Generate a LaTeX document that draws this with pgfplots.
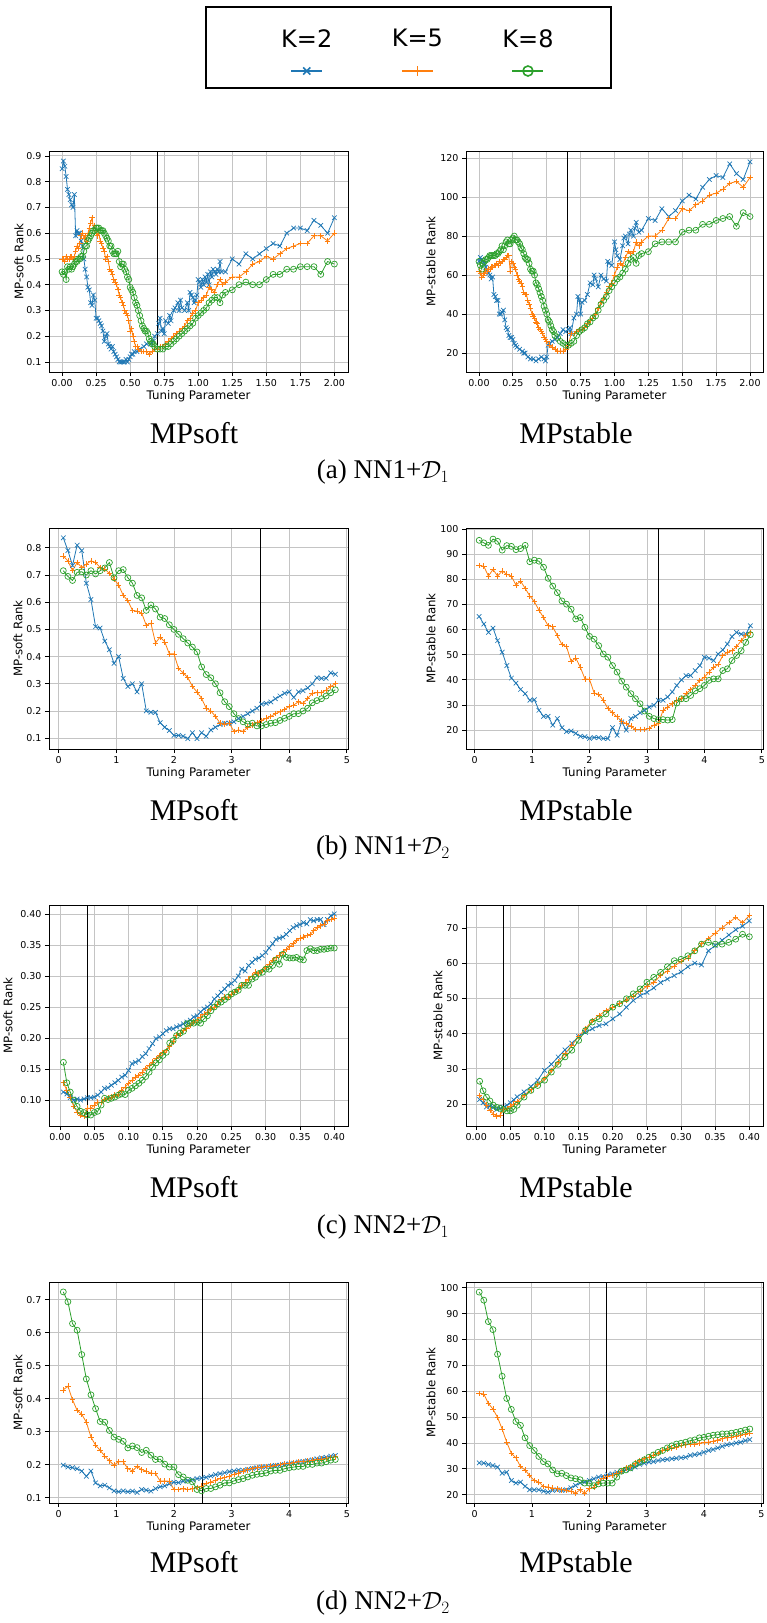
\documentclass[border=0pt]{standalone}
\usepackage{fontspec}
\setmainfont{Liberation Serif}
\newfontfamily\dejavu{DejaVu Sans}
\usepackage{pgfplots}
\usepackage{pgfplotstable}
\pgfplotsset{compat=1.18}
\definecolor{c2}{HTML}{1F77B4}
\definecolor{c5}{HTML}{FF7F0E}
\definecolor{c8}{HTML}{2CA02C}
\definecolor{gridc}{HTML}{C4C4C4}

\pgfplotstableread{
x b o g
0.08 0.837 0.770 0.716
0.16 0.790 0.752 0.695
0.24 0.735 0.716 0.680
0.32 0.810 0.746 0.710
0.40 0.790 0.728 0.712
0.48 0.670 0.740 0.700
0.56 0.610 0.752 0.716
0.64 0.510 0.746 0.704
0.72 0.505 0.728 0.716
0.80 0.457 0.722 0.726
0.88 0.425 0.706 0.746
0.96 0.375 0.685 0.690
1.04 0.400 0.663 0.716
1.12 0.320 0.625 0.720
1.20 0.290 0.606 0.690
1.28 0.300 0.570 0.670
1.36 0.270 0.567 0.625
1.44 0.300 0.560 0.616
1.52 0.200 0.515 0.570
1.60 0.195 0.523 0.590
1.68 0.195 0.450 0.575
1.76 0.157 0.472 0.545
1.84 0.140 0.454 0.540
1.92 0.128 0.410 0.517
2.00 0.110 0.410 0.500
2.08 0.110 0.356 0.482
2.16 0.107 0.340 0.466
2.24 0.098 0.323 0.450
2.32 0.120 0.290 0.435
2.40 0.098 0.270 0.417
2.48 0.120 0.246 0.362
2.56 0.107 0.210 0.334
2.64 0.130 0.200 0.322
2.72 0.140 0.180 0.300
2.80 0.150 0.155 0.267
2.88 0.155 0.152 0.234
2.96 0.155 0.155 0.216
3.04 0.160 0.125 0.190
3.12 0.172 0.130 0.172
3.20 0.180 0.125 0.160
3.28 0.190 0.140 0.152
3.36 0.200 0.148 0.155
3.44 0.210 0.157 0.145
3.52 0.225 0.165 0.145
3.60 0.228 0.173 0.150
3.68 0.233 0.180 0.155
3.76 0.245 0.190 0.157
3.84 0.255 0.197 0.165
3.92 0.265 0.206 0.173
4.00 0.270 0.216 0.180
4.08 0.250 0.222 0.190
4.16 0.270 0.234 0.190
4.24 0.275 0.228 0.200
4.32 0.285 0.246 0.210
4.40 0.300 0.265 0.230
4.48 0.322 0.267 0.238
4.56 0.320 0.267 0.245
4.64 0.320 0.277 0.255
4.72 0.340 0.290 0.267
4.80 0.335 0.300 0.278
}\tabC

\pgfplotstableread{
x b o g
0.08 65.2 85.5 95.5
0.16 62.2 85.2 94.5
0.24 58.9 81.3 93.5
0.32 60.6 83.9 96.0
0.40 55.6 81.3 95.1
0.48 51.0 83.3 91.6
0.56 45.7 82.0 93.4
0.64 40.7 81.3 93.1
0.72 38.7 77.7 91.8
0.80 36.2 79.3 92.2
0.88 34.5 76.4 93.5
0.96 31.9 73.4 87.0
1.04 32.1 71.1 87.6
1.12 27.9 67.7 87.2
1.20 25.5 64.8 84.8
1.28 25.5 61.5 80.4
1.36 22.0 61.1 77.3
1.44 24.6 57.6 74.7
1.52 21.0 54.0 71.4
1.60 19.4 53.2 70.1
1.68 19.7 47.3 68.1
1.76 18.7 48.7 64.2
1.84 17.6 45.0 64.8
1.92 17.4 40.4 60.9
2.00 16.7 40.2 57.3
2.08 17.1 34.8 56.2
2.16 17.0 34.2 53.6
2.24 16.7 31.9 50.3
2.32 16.7 28.6 49.0
2.40 21.0 26.9 45.7
2.48 18.0 25.3 43.1
2.56 23.3 23.6 39.5
2.64 20.0 22.6 37.1
2.72 24.6 21.6 34.5
2.80 25.5 20.3 32.5
2.88 26.9 20.3 30.5
2.96 27.9 20.3 27.6
3.04 29.2 20.7 25.5
3.12 29.9 22.0 24.6
3.20 31.9 22.6 24.2
3.28 31.9 27.9 24.2
3.36 33.2 29.2 24.0
3.44 35.2 30.5 24.2
3.52 37.8 31.9 30.8
3.60 40.0 32.5 32.5
3.68 41.7 34.5 32.5
3.76 41.7 36.1 33.8
3.84 43.7 37.8 35.6
3.92 45.7 39.8 36.5
4.00 49.0 41.1 37.8
4.08 48.6 43.1 39.8
4.16 47.7 45.0 40.4
4.24 50.3 46.1 40.4
4.32 51.9 49.7 43.7
4.40 54.3 51.0 44.4
4.48 57.2 51.6 47.7
4.56 58.9 53.2 49.7
4.64 58.2 55.6 51.6
4.72 58.2 57.6 54.9
4.80 61.5 58.9 58.0
}\tabD

\pgfplotstableread{
x b o g
0.005 0.113 0.128 0.161
0.010 0.110 0.116 0.128
0.015 0.104 0.105 0.113
0.020 0.100 0.090 0.100
0.025 0.102 0.081 0.090
0.030 0.100 0.076 0.082
0.035 0.102 0.074 0.080
0.040 0.104 0.087 0.076
0.045 0.104 0.087 0.076
0.050 0.105 0.092 0.080
0.055 0.108 0.097 0.082
0.060 0.113 0.096 0.092
0.065 0.119 0.101 0.103
0.070 0.120 0.103 0.101
0.075 0.124 0.105 0.103
0.080 0.128 0.108 0.105
0.085 0.132 0.110 0.108
0.090 0.137 0.116 0.110
0.095 0.140 0.121 0.109
0.100 0.148 0.127 0.116
0.105 0.159 0.132 0.119
0.110 0.161 0.137 0.123
0.115 0.164 0.140 0.127
0.120 0.170 0.145 0.132
0.125 0.175 0.151 0.138
0.130 0.183 0.156 0.145
0.135 0.191 0.161 0.153
0.140 0.199 0.167 0.160
0.145 0.202 0.172 0.165
0.150 0.207 0.177 0.172
0.155 0.212 0.180 0.177
0.160 0.215 0.186 0.192
0.165 0.215 0.194 0.196
0.170 0.218 0.204 0.204
0.175 0.220 0.207 0.208
0.180 0.223 0.212 0.211
0.185 0.226 0.215 0.223
0.190 0.229 0.220 0.224
0.195 0.234 0.226 0.224
0.200 0.236 0.229 0.226
0.205 0.242 0.234 0.224
0.210 0.247 0.239 0.231
0.215 0.250 0.242 0.236
0.220 0.255 0.247 0.244
0.225 0.263 0.250 0.250
0.230 0.268 0.255 0.255
0.235 0.274 0.262 0.258
0.240 0.279 0.266 0.262
0.245 0.285 0.266 0.266
0.250 0.288 0.271 0.271
0.255 0.293 0.274 0.274
0.260 0.300 0.279 0.277
0.265 0.311 0.285 0.285
0.270 0.308 0.290 0.285
0.275 0.317 0.295 0.285
0.280 0.322 0.300 0.295
0.285 0.327 0.306 0.298
0.290 0.329 0.304 0.304
0.295 0.333 0.309 0.306
0.300 0.338 0.314 0.311
0.305 0.345 0.319 0.311
0.310 0.352 0.325 0.317
0.315 0.359 0.330 0.326
0.320 0.361 0.334 0.319
0.325 0.363 0.338 0.335
0.330 0.367 0.343 0.330
0.335 0.373 0.347 0.329
0.340 0.378 0.352 0.329
0.345 0.381 0.357 0.330
0.350 0.383 0.361 0.327
0.355 0.386 0.363 0.326
0.360 0.384 0.365 0.341
0.365 0.391 0.367 0.344
0.370 0.389 0.373 0.341
0.375 0.391 0.378 0.341
0.380 0.391 0.381 0.343
0.385 0.383 0.384 0.343
0.390 0.391 0.389 0.344
0.395 0.397 0.391 0.345
0.400 0.400 0.393 0.345
}\tabE

\pgfplotstableread{
x b o g
0.005 21.3 22.5 26.5
0.010 20.4 21.3 23.8
0.015 19.2 19.7 22.0
0.020 19.4 18.3 20.9
0.025 19.1 17.2 19.7
0.030 18.5 16.6 19.1
0.035 18.8 16.9 18.8
0.040 19.1 18.5 18.5
0.045 19.7 18.8 18.1
0.050 20.4 19.4 18.1
0.055 21.2 20.0 18.5
0.060 22.1 20.7 19.7
0.070 23.5 22.5 22.0
0.080 25.0 24.1 23.9
0.090 26.8 25.7 25.3
0.100 29.6 27.3 26.8
0.110 31.3 29.6 29.1
0.120 33.4 32.0 31.3
0.130 35.4 34.3 33.4
0.140 37.3 36.7 35.3
0.150 39.2 39.2 38.1
0.160 40.4 41.4 40.9
0.170 41.4 43.7 43.3
0.180 42.3 45.2 44.2
0.190 42.8 46.6 45.6
0.200 44.2 47.5 47.5
0.210 45.6 48.5 48.5
0.220 47.5 49.5 49.9
0.230 49.4 50.5 51.3
0.240 50.8 52.0 52.7
0.250 51.7 53.5 54.6
0.260 53.0 54.5 56.0
0.270 54.5 56.5 57.4
0.280 55.5 57.8 59.0
0.290 56.5 59.2 60.7
0.300 57.5 60.5 61.1
0.310 59.0 61.5 62.1
0.320 60.0 63.5 63.5
0.330 59.5 65.5 65.4
0.340 63.5 67.0 65.9
0.350 65.0 68.5 65.4
0.360 66.5 70.0 65.4
0.370 68.0 71.5 65.9
0.380 69.5 73.0 66.8
0.390 70.5 71.5 68.2
0.400 72.0 73.5 67.5
}\tabF

\pgfplotstableread{
x b o g
0.08 0.199 0.427 0.724
0.16 0.193 0.438 0.694
0.24 0.191 0.397 0.628
0.32 0.188 0.365 0.608
0.40 0.181 0.353 0.534
0.48 0.165 0.329 0.460
0.56 0.181 0.284 0.412
0.64 0.145 0.259 0.370
0.72 0.136 0.244 0.331
0.80 0.138 0.226 0.329
0.88 0.130 0.212 0.304
0.96 0.121 0.199 0.284
1.04 0.118 0.209 0.277
1.12 0.121 0.209 0.271
1.20 0.118 0.188 0.251
1.28 0.120 0.181 0.257
1.36 0.116 0.195 0.252
1.44 0.125 0.185 0.237
1.52 0.123 0.181 0.244
1.60 0.120 0.175 0.229
1.68 0.128 0.173 0.216
1.76 0.133 0.151 0.217
1.84 0.136 0.151 0.202
1.92 0.142 0.150 0.193
2.00 0.147 0.125 0.193
2.08 0.146 0.125 0.170
2.16 0.150 0.127 0.163
2.24 0.152 0.125 0.153
2.32 0.155 0.127 0.148
2.40 0.158 0.131 0.125
2.48 0.160 0.135 0.121
2.56 0.162 0.143 0.128
2.64 0.166 0.148 0.128
2.72 0.170 0.153 0.133
2.80 0.173 0.158 0.138
2.88 0.176 0.161 0.145
2.96 0.179 0.165 0.145
3.04 0.181 0.171 0.151
3.12 0.184 0.175 0.155
3.20 0.183 0.181 0.158
3.28 0.186 0.185 0.163
3.36 0.189 0.188 0.168
3.44 0.191 0.191 0.171
3.52 0.193 0.193 0.173
3.60 0.194 0.195 0.175
3.68 0.196 0.196 0.181
3.76 0.198 0.198 0.183
3.84 0.199 0.201 0.183
3.92 0.201 0.203 0.188
4.00 0.203 0.205 0.191
4.08 0.205 0.206 0.193
4.16 0.208 0.209 0.195
4.24 0.210 0.210 0.195
4.32 0.212 0.211 0.201
4.40 0.215 0.214 0.201
4.48 0.218 0.216 0.205
4.56 0.221 0.217 0.205
4.64 0.223 0.219 0.209
4.72 0.226 0.222 0.214
4.80 0.228 0.224 0.216
}\tabG

\pgfplotstableread{
x b o g
0.08 32.3 59.2 98.3
0.16 32.2 58.9 95.2
0.24 31.7 55.3 86.9
0.32 31.3 53.1 83.8
0.40 30.7 49.9 74.3
0.48 28.3 45.4 65.8
0.56 28.7 40.3 57.2
0.64 25.5 36.0 53.0
0.72 24.5 34.3 48.3
0.80 24.9 30.9 46.8
0.88 23.3 29.6 42.0
0.96 21.9 27.4 39.0
1.04 21.9 25.5 37.1
1.12 21.9 24.9 34.8
1.20 21.4 23.2 32.8
1.28 21.0 23.0 31.9
1.36 21.7 22.6 29.6
1.44 21.9 22.3 28.1
1.52 21.7 21.9 28.3
1.60 21.9 21.7 27.4
1.68 22.7 21.4 26.5
1.76 23.6 20.6 26.2
1.84 24.5 21.9 25.8
1.92 24.9 20.6 24.5
2.00 25.5 22.3 24.5
2.08 26.2 23.0 23.5
2.16 26.8 24.9 24.2
2.24 27.1 26.5 24.5
2.32 27.7 27.1 24.5
2.40 28.1 27.4 24.5
2.48 28.7 28.1 26.8
2.56 29.1 29.1 29.1
2.64 29.6 30.4 29.6
2.72 30.0 30.9 30.4
2.80 30.7 32.2 31.7
2.88 31.7 33.2 32.6
2.96 32.2 33.9 33.5
3.04 32.6 34.5 34.5
3.12 32.8 35.4 35.4
3.20 33.2 36.0 36.4
3.28 33.5 37.1 37.1
3.36 33.7 37.6 38.1
3.44 33.9 38.1 38.9
3.52 34.1 38.4 39.6
3.60 34.3 39.0 39.9
3.68 34.5 39.3 40.3
3.76 35.2 39.5 40.9
3.84 35.5 39.6 41.2
3.92 35.8 39.9 42.0
4.00 36.4 40.2 42.2
4.08 37.1 40.3 42.6
4.16 37.5 40.7 43.0
4.24 38.1 41.2 43.2
4.32 38.7 41.6 43.5
4.40 39.3 42.0 43.5
4.48 39.6 42.2 43.8
4.56 40.0 42.6 44.1
4.64 40.3 43.0 44.5
4.72 40.9 43.5 45.0
4.80 41.3 43.9 45.4
}\tabH

\pgfplotsset{
  base/.style={scale only axis, height=221pt,
    axis line style={line width=0.9pt, black},
    grid=major, major grid style={line width=0.9pt, color=gridc},
    tick align=outside, tick pos=left, major tick length=4pt,
    tick style={black, line width=0.8pt},
    ticklabel style={font=\dejavu\fontsize{9.5}{11}\selectfont},
    /pgf/number format/assume math mode=true,
    scaled ticks=false,
    xlabel={Tuning Parameter},
    every axis x label/.style={at={(axis description cs:0.5,0)}, anchor=center, yshift=-24pt, font=\dejavu\fontsize{11.8}{13}\selectfont},
  },
  yl/.style={every axis y label/.style={at={(axis description cs:#1,0.5)}, rotate=90, anchor=center, font=\dejavu\fontsize{11.8}{13}\selectfont}},
  xf/.style={xticklabel style={/pgf/number format/.cd, fixed, fixed zerofill, precision=#1}},
  yf/.style={yticklabel style={/pgf/number format/.cd, fixed, fixed zerofill, precision=#1}},
  k2/.style={color=c2, line width=0.8pt, mark=x, mark size=3.2pt, mark options={line width=0.7pt}},
  k5/.style={color=c5, line width=0.8pt, mark=+, mark size=2.8pt, mark options={line width=0.7pt}},
  k8/.style={color=c8, line width=0.8pt, mark=o, mark size=3pt, mark options={line width=0.7pt, fill=none}},
  vl/.style={black, line width=1pt, forget plot},
}

\begin{document}
\begin{tikzpicture}
\path[use as bounding box] (0pt,0pt) rectangle (766pt,-1623pt);

% ---------- legend ----------
\begin{axis}[at={(206pt,-88pt)}, anchor=south west, scale only axis, width=405pt, height=81pt,
  xmin=0, xmax=1, ymin=0, ymax=1, xtick=\empty, ytick=\empty,
  axis line style={line width=1.4pt, black},
  legend columns=3,
  legend style={at={(0.522,0.605)}, anchor=center, draw=none, fill=none,
    font=\dejavu\fontsize{24}{28}\selectfont,
    /tikz/every even column/.append style={column sep=55.5pt}},
  legend image code/.code={\path[draw=none, fill=none] (0pt,-1pt) rectangle (0pt,1pt);
    \draw[overlay, mark repeat=2, mark phase=2, #1] plot coordinates {(12pt,-32pt) (27.5pt,-32pt) (43pt,-32pt)};}]
\addlegendimage{k2, line width=2pt, mark size=5pt, mark options={line width=1.6pt}}
\addlegendentry{K=2}
\addlegendimage{k5, line width=2pt, mark size=5pt, mark options={line width=1.6pt}}
\addlegendentry{K=5}
\addlegendimage{k8, line width=2pt, mark size=5pt, mark options={line width=1.6pt, fill=none}}
\addlegendentry{K=8}
\end{axis}

% ---------- row 1 ----------
\begin{axis}[base, at={(49pt,-372pt)}, anchor=south west, width=299pt,
  xmin=-0.096, xmax=2.1, ymin=0.061, ymax=0.919,
  xtick={0,0.25,0.5,0.75,1,1.25,1.5,1.75,2}, ytick={0.1,0.2,0.3,0.4,0.5,0.6,0.7,0.8,0.9},
  xf=2, yf=1, yl=-0.10, ylabel={MP-soft Rank}]
\addplot[k2] coordinates {(0.00,0.85) (0.01,0.88) (0.02,0.86) (0.03,0.82) (0.04,0.77) (0.05,0.75) (0.06,0.73) (0.07,0.71) (0.08,0.70) (0.09,0.75) (0.10,0.59) (0.11,0.61) (0.12,0.60) (0.13,0.60) (0.14,0.57) (0.15,0.55) (0.16,0.50) (0.17,0.46) (0.18,0.43) (0.19,0.39) (0.20,0.38) (0.21,0.33) (0.22,0.32) (0.23,0.36) (0.24,0.34) (0.25,0.27) (0.26,0.27) (0.27,0.26) (0.28,0.25) (0.29,0.24) (0.30,0.22) (0.31,0.18) (0.32,0.20) (0.33,0.21) (0.34,0.17) (0.35,0.16) (0.36,0.15) (0.37,0.16) (0.38,0.14) (0.39,0.13) (0.40,0.12) (0.41,0.11) (0.42,0.10) (0.43,0.10) (0.44,0.10) (0.45,0.10) (0.46,0.10) (0.47,0.11) (0.48,0.10) (0.49,0.11) (0.50,0.12) (0.51,0.13) (0.52,0.13) (0.53,0.14) (0.55,0.14) (0.57,0.15) (0.60,0.16) (0.62,0.17) (0.65,0.17) (0.67,0.18) (0.68,0.20) (0.70,0.21) (0.71,0.25) (0.72,0.27) (0.73,0.22) (0.74,0.23) (0.75,0.21) (0.76,0.26) (0.78,0.25) (0.79,0.28) (0.80,0.26) (0.82,0.30) (0.83,0.31) (0.85,0.33) (0.86,0.30) (0.87,0.34) (0.88,0.31) (0.90,0.30) (0.92,0.33) (0.93,0.30) (0.94,0.37) (0.95,0.36) (0.96,0.35) (0.97,0.33) (0.98,0.34) (0.99,0.36) (1.00,0.42) (1.01,0.41) (1.02,0.39) (1.03,0.42) (1.04,0.40) (1.05,0.43) (1.06,0.41) (1.07,0.44) (1.08,0.40) (1.09,0.45) (1.10,0.43) (1.11,0.46) (1.12,0.45) (1.13,0.44) (1.14,0.46) (1.15,0.45) (1.16,0.49) (1.17,0.45) (1.20,0.45) (1.25,0.50) (1.30,0.48) (1.35,0.52) (1.40,0.50) (1.45,0.52) (1.50,0.54) (1.55,0.56) (1.60,0.55) (1.65,0.60) (1.70,0.62) (1.75,0.62) (1.80,0.61) (1.85,0.65) (1.90,0.63) (1.95,0.60) (2.00,0.66)};
\addplot[k5] coordinates {(0.00,0.50) (0.01,0.50) (0.02,0.49) (0.03,0.51) (0.04,0.50) (0.05,0.50) (0.06,0.51) (0.07,0.51) (0.08,0.50) (0.09,0.51) (0.10,0.53) (0.11,0.55) (0.12,0.54) (0.13,0.56) (0.14,0.59) (0.15,0.60) (0.16,0.58) (0.17,0.59) (0.18,0.57) (0.19,0.60) (0.20,0.62) (0.21,0.64) (0.22,0.66) (0.23,0.62) (0.24,0.63) (0.25,0.60) (0.26,0.59) (0.27,0.60) (0.28,0.57) (0.29,0.56) (0.30,0.54) (0.31,0.53) (0.32,0.50) (0.33,0.51) (0.34,0.49) (0.35,0.46) (0.36,0.45) (0.37,0.44) (0.38,0.42) (0.39,0.41) (0.40,0.40) (0.41,0.38) (0.42,0.36) (0.43,0.35) (0.44,0.33) (0.45,0.32) (0.46,0.30) (0.47,0.29) (0.48,0.28) (0.49,0.26) (0.50,0.22) (0.51,0.23) (0.52,0.20) (0.53,0.18) (0.54,0.16) (0.55,0.16) (0.56,0.15) (0.58,0.14) (0.60,0.14) (0.62,0.14) (0.64,0.13) (0.66,0.14) (0.68,0.15) (0.70,0.15) (0.72,0.16) (0.74,0.16) (0.76,0.17) (0.78,0.18) (0.80,0.19) (0.82,0.20) (0.84,0.21) (0.86,0.22) (0.88,0.23) (0.90,0.24) (0.92,0.26) (0.94,0.27) (0.96,0.29) (0.98,0.30) (1.00,0.33) (1.02,0.34) (1.04,0.35) (1.06,0.36) (1.08,0.39) (1.10,0.38) (1.12,0.37) (1.14,0.40) (1.16,0.42) (1.18,0.40) (1.20,0.41) (1.25,0.43) (1.30,0.43) (1.35,0.45) (1.40,0.48) (1.45,0.49) (1.50,0.51) (1.55,0.50) (1.60,0.52) (1.65,0.54) (1.70,0.55) (1.75,0.56) (1.80,0.56) (1.85,0.59) (1.90,0.59) (1.95,0.57) (2.00,0.60)};
\addplot[k8] coordinates {(0.00,0.45) (0.01,0.44) (0.02,0.45) (0.03,0.42) (0.04,0.47) (0.05,0.46) (0.06,0.47) (0.07,0.46) (0.08,0.47) (0.09,0.48) (0.10,0.49) (0.11,0.49) (0.12,0.50) (0.13,0.50) (0.14,0.51) (0.15,0.51) (0.16,0.53) (0.17,0.55) (0.18,0.55) (0.19,0.57) (0.20,0.58) (0.21,0.59) (0.22,0.60) (0.23,0.61) (0.24,0.61) (0.25,0.62) (0.26,0.62) (0.27,0.62) (0.28,0.61) (0.29,0.61) (0.30,0.61) (0.31,0.60) (0.32,0.59) (0.33,0.58) (0.34,0.57) (0.35,0.55) (0.36,0.55) (0.37,0.53) (0.38,0.52) (0.39,0.52) (0.40,0.52) (0.41,0.53) (0.42,0.49) (0.43,0.47) (0.44,0.48) (0.45,0.48) (0.46,0.46) (0.47,0.45) (0.48,0.43) (0.49,0.42) (0.50,0.39) (0.51,0.38) (0.52,0.37) (0.53,0.35) (0.54,0.33) (0.55,0.32) (0.56,0.30) (0.57,0.28) (0.58,0.26) (0.59,0.24) (0.60,0.23) (0.61,0.22) (0.62,0.22) (0.63,0.21) (0.64,0.19) (0.65,0.18) (0.66,0.17) (0.67,0.17) (0.68,0.16) (0.70,0.15) (0.72,0.15) (0.74,0.15) (0.76,0.16) (0.78,0.16) (0.80,0.17) (0.82,0.18) (0.84,0.19) (0.86,0.20) (0.88,0.21) (0.90,0.22) (0.92,0.23) (0.94,0.24) (0.96,0.25) (0.98,0.27) (1.00,0.28) (1.02,0.29) (1.04,0.30) (1.06,0.31) (1.08,0.33) (1.10,0.34) (1.12,0.35) (1.14,0.35) (1.16,0.33) (1.18,0.36) (1.20,0.37) (1.25,0.38) (1.30,0.40) (1.35,0.41) (1.40,0.40) (1.45,0.40) (1.50,0.42) (1.55,0.44) (1.60,0.44) (1.65,0.46) (1.70,0.46) (1.75,0.47) (1.80,0.47) (1.85,0.47) (1.90,0.44) (1.95,0.49) (2.00,0.48)};
\addplot[vl] coordinates {(0.70,0) (0.70,1)};
\end{axis}

\begin{axis}[base, at={(466pt,-372pt)}, anchor=south west, width=297pt,
  xmin=-0.096, xmax=2.096, ymin=10.3, ymax=123.6,
  xtick={0,0.25,0.5,0.75,1,1.25,1.5,1.75,2}, ytick={20,40,60,80,100,120},
  xf=2, yl=-0.118, ylabel={MP-stable Rank}]
\addplot[k2] coordinates {(0.00,67) (0.01,69) (0.02,68) (0.03,67) (0.04,66) (0.05,64) (0.06,62) (0.07,61) (0.08,60) (0.09,58) (0.10,59) (0.11,50) (0.12,49) (0.13,47) (0.14,47) (0.15,40) (0.16,40) (0.17,41) (0.18,42) (0.19,37) (0.20,33) (0.21,32) (0.22,29) (0.23,28) (0.24,28) (0.25,27) (0.26,25) (0.27,24) (0.28,23) (0.30,22) (0.32,21) (0.33,20) (0.34,20) (0.36,18) (0.38,17) (0.40,17) (0.42,16) (0.44,17) (0.46,18) (0.48,17) (0.49,16) (0.50,18) (0.51,24) (0.52,25) (0.54,26) (0.56,27) (0.58,28) (0.60,30) (0.62,32) (0.64,31) (0.66,32) (0.67,33) (0.68,30) (0.70,38) (0.72,40) (0.73,49) (0.74,47) (0.75,40) (0.76,46) (0.78,47) (0.80,50) (0.82,56) (0.84,55) (0.85,60) (0.86,58) (0.88,54) (0.90,60) (0.92,58) (0.94,57) (0.95,67) (0.96,66) (0.98,65) (1.00,77) (1.01,73) (1.02,70) (1.04,68) (1.06,75) (1.07,79) (1.08,80) (1.10,76) (1.11,81) (1.12,83) (1.14,80) (1.15,84) (1.16,87) (1.18,82) (1.20,83) (1.25,89) (1.30,88) (1.35,94) (1.40,90) (1.45,93) (1.50,98) (1.55,101) (1.60,99) (1.65,105) (1.70,109) (1.75,111) (1.80,110) (1.85,117) (1.90,112) (1.95,109) (2.00,118)};
\addplot[k5] coordinates {(0.00,62) (0.01,61) (0.02,59) (0.03,60) (0.04,61) (0.05,62) (0.06,62) (0.07,63) (0.08,63) (0.09,64) (0.10,64) (0.11,65) (0.12,65) (0.13,66) (0.14,65) (0.15,67) (0.16,66) (0.17,67) (0.18,68) (0.19,68) (0.20,69) (0.21,70) (0.22,70) (0.23,62) (0.24,67) (0.25,66) (0.26,64) (0.27,63) (0.28,60) (0.29,58) (0.30,57) (0.31,56) (0.32,54) (0.33,51) (0.34,50) (0.35,50) (0.36,47) (0.37,45) (0.38,43) (0.39,40) (0.40,39) (0.41,38) (0.42,36) (0.43,35) (0.44,33) (0.45,32) (0.46,31) (0.47,30) (0.48,28) (0.49,27) (0.50,26) (0.52,24) (0.54,23) (0.56,22) (0.58,21) (0.60,21) (0.62,21) (0.64,22) (0.66,24) (0.68,30) (0.70,30) (0.72,31) (0.74,32) (0.76,32) (0.78,33) (0.80,35) (0.82,37) (0.84,38) (0.86,40) (0.88,43) (0.90,46) (0.92,48) (0.94,51) (0.96,54) (0.98,56) (1.00,60) (1.02,64) (1.04,66) (1.06,65) (1.08,69) (1.10,72) (1.12,71) (1.14,72) (1.16,77) (1.18,75) (1.20,77) (1.25,80) (1.30,80) (1.35,83) (1.40,89) (1.45,89) (1.50,94) (1.55,93) (1.60,96) (1.65,98) (1.70,101) (1.75,102) (1.80,104) (1.85,107) (1.90,108) (1.95,105) (2.00,110)};
\addplot[k8] coordinates {(0.00,67) (0.01,65) (0.02,63) (0.03,66) (0.04,67) (0.05,68) (0.06,68) (0.07,69) (0.08,70) (0.09,70) (0.10,70) (0.11,70) (0.12,70) (0.13,71) (0.14,71) (0.15,72) (0.16,73) (0.17,75) (0.18,73) (0.19,75) (0.20,77) (0.21,78) (0.22,76) (0.23,76) (0.24,78) (0.25,79) (0.26,80) (0.27,78) (0.28,78) (0.29,77) (0.30,76) (0.31,74) (0.32,73) (0.33,71) (0.34,69) (0.35,68) (0.36,68) (0.37,66) (0.38,63) (0.39,62) (0.40,62) (0.41,60) (0.42,56) (0.43,55) (0.44,53) (0.45,51) (0.46,49) (0.47,47) (0.48,44) (0.49,42) (0.50,40) (0.51,37) (0.52,36) (0.53,34) (0.54,32) (0.55,31) (0.56,29) (0.58,28) (0.60,26) (0.62,25) (0.64,24) (0.66,24) (0.68,25) (0.70,26) (0.72,29) (0.74,31) (0.76,32) (0.78,33) (0.80,35) (0.82,36) (0.84,38) (0.86,39) (0.88,42) (0.90,45) (0.92,47) (0.94,49) (0.96,52) (0.98,54) (1.00,56) (1.02,58) (1.04,59) (1.06,61) (1.08,63) (1.10,66) (1.12,68) (1.14,69) (1.16,66) (1.18,70) (1.20,71) (1.25,72) (1.30,76) (1.35,77) (1.40,77) (1.45,77) (1.50,82) (1.55,83) (1.60,83) (1.65,86) (1.70,86) (1.75,88) (1.80,89) (1.85,90) (1.90,85) (1.95,92) (2.00,90)};
\addplot[vl] coordinates {(0.65,0) (0.65,200)};
\end{axis}

\node at (194pt,-433pt) {\fontsize{30}{34}\selectfont MPsoft};
\node at (576pt,-433pt) {\fontsize{30}{34}\selectfont MPstable};
\node at (383pt,-472pt) {\fontsize{27}{32}\selectfont (a) NN1+$\mathcal{D}_1$};

% ---------- row 2 ----------
\begin{axis}[base, at={(49pt,-749pt)}, anchor=south west, width=299pt,
  xmin=-0.168, xmax=5.02, ymin=0.06, ymax=0.873,
  xtick={0,1,2,3,4,5}, ytick={0.1,0.2,0.3,0.4,0.5,0.6,0.7,0.8},
  yf=1, yl=-0.104, ylabel={MP-soft Rank}]
\addplot[k2] table[x=x,y=b]{\tabC};
\addplot[k5] table[x=x,y=o]{\tabC};
\addplot[k8] table[x=x,y=g]{\tabC};
\addplot[vl] coordinates {(3.5,0) (3.5,1)};
\end{axis}

\begin{axis}[base, at={(466pt,-749pt)}, anchor=south west, width=297pt,
  xmin=-0.15, xmax=5.02, ymin=12.5, ymax=100.4,
  xtick={0,1,2,3,4,5}, ytick={20,30,40,50,60,70,80,90,100},
  yl=-0.118, ylabel={MP-stable Rank}]
\addplot[k2] table[x=x,y=b]{\tabD};
\addplot[k5] table[x=x,y=o]{\tabD};
\addplot[k8] table[x=x,y=g]{\tabD};
\addplot[vl] coordinates {(3.2,0) (3.2,200)};
\end{axis}

\node at (194pt,-810pt) {\fontsize{30}{34}\selectfont MPsoft};
\node at (576pt,-810pt) {\fontsize{30}{34}\selectfont MPstable};
\node at (383pt,-848pt) {\fontsize{27}{32}\selectfont (b) NN1+$\mathcal{D}_2$};

% ---------- row 3 ----------
\begin{axis}[base, at={(49pt,-1126pt)}, anchor=south west, width=299pt,
  xmin=-0.016, xmax=0.42, ymin=0.0583, ymax=0.4144,
  xtick={0,0.05,0.1,0.15,0.2,0.25,0.3,0.35,0.4}, ytick={0.1,0.15,0.2,0.25,0.3,0.35,0.4},
  xf=2, yf=2, yl=-0.137, ylabel={MP-soft Rank}]
\addplot[k2] table[x=x,y=b]{\tabE};
\addplot[k5] table[x=x,y=o]{\tabE};
\addplot[k8] table[x=x,y=g]{\tabE};
\addplot[vl] coordinates {(0.04,0) (0.04,1)};
\end{axis}

\begin{axis}[base, at={(466pt,-1126pt)}, anchor=south west, width=297pt,
  xmin=-0.015, xmax=0.42, ymin=13.8, ymax=76.5,
  xtick={0,0.05,0.1,0.15,0.2,0.25,0.3,0.35,0.4}, ytick={20,30,40,50,60,70},
  xf=2, yl=-0.094, ylabel={MP-stable Rank}]
\addplot[k2] table[x=x,y=b]{\tabF};
\addplot[k5] table[x=x,y=o]{\tabF};
\addplot[k8] table[x=x,y=g]{\tabF};
\addplot[vl] coordinates {(0.04,0) (0.04,200)};
\end{axis}

\node at (194pt,-1187pt) {\fontsize{30}{34}\selectfont MPsoft};
\node at (576pt,-1187pt) {\fontsize{30}{34}\selectfont MPstable};
\node at (383pt,-1227pt) {\fontsize{27}{32}\selectfont (c) NN2+$\mathcal{D}_1$};

% ---------- row 4 ----------
\begin{axis}[base, at={(49pt,-1503pt)}, anchor=south west, width=299pt,
  xmin=-0.168, xmax=5.02, ymin=0.084, ymax=0.754,
  xtick={0,1,2,3,4,5}, ytick={0.1,0.2,0.3,0.4,0.5,0.6,0.7},
  yf=1, yl=-0.104, ylabel={MP-soft Rank}]
\addplot[k2] table[x=x,y=b]{\tabG};
\addplot[k5] table[x=x,y=o]{\tabG};
\addplot[k8] table[x=x,y=g]{\tabG};
\addplot[vl] coordinates {(2.5,0) (2.5,1)};
\end{axis}

\begin{axis}[base, at={(466pt,-1503pt)}, anchor=south west, width=297pt,
  xmin=-0.15, xmax=5.03, ymin=16.8, ymax=102.2,
  xtick={0,1,2,3,4,5}, ytick={20,30,40,50,60,70,80,90,100},
  yl=-0.118, ylabel={MP-stable Rank}]
\addplot[k2] table[x=x,y=b]{\tabH};
\addplot[k5] table[x=x,y=o]{\tabH};
\addplot[k8] table[x=x,y=g]{\tabH};
\addplot[vl] coordinates {(2.3,0) (2.3,200)};
\end{axis}

\node at (194pt,-1562pt) {\fontsize{30}{34}\selectfont MPsoft};
\node at (576pt,-1562pt) {\fontsize{30}{34}\selectfont MPstable};
\node at (383pt,-1603pt) {\fontsize{27}{32}\selectfont (d) NN2+$\mathcal{D}_2$};
\end{tikzpicture}
\end{document}
